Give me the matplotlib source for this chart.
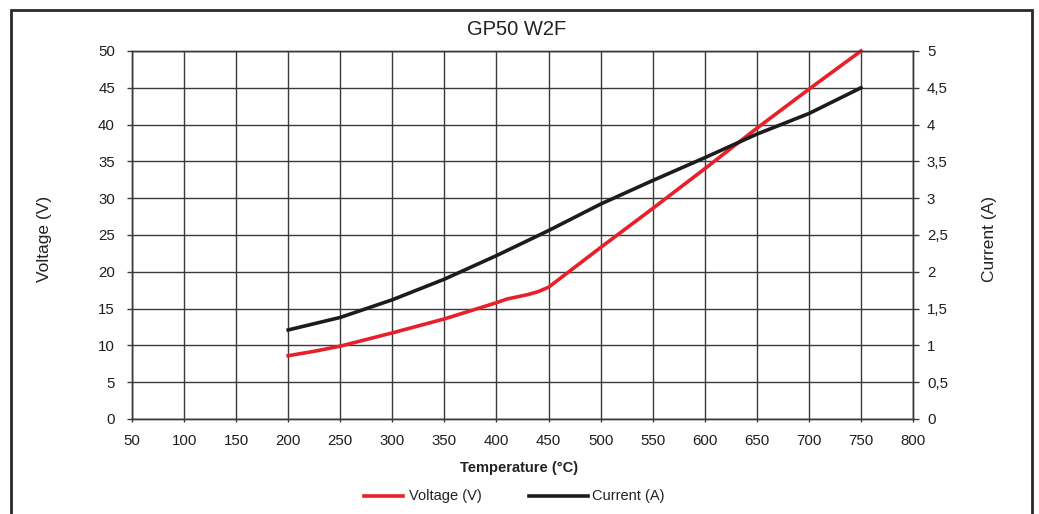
import matplotlib
matplotlib.use("Agg")
import matplotlib.pyplot as plt
from matplotlib.lines import Line2D
from matplotlib.patches import Rectangle

plt.rcParams['font.family'] = ['Liberation Sans', 'DejaVu Sans']

# DATA ------------------------------------------------
title = "GP50 W2F"
temp_v = [200, 225, 250, 275, 300, 350, 400, 410, 420, 430, 440, 450, 500, 550, 600, 650, 700, 750]
voltage = [8.6, 9.2, 9.9, 10.8, 11.7, 13.6, 15.8, 16.3, 16.6, 16.9, 17.3, 17.9, 23.3, 28.6, 34.0, 39.5, 44.8, 50.0]

temp_c = [200, 250, 300, 350, 400, 450, 500, 550, 600, 650, 700, 750]
current = [1.21, 1.38, 1.62, 1.90, 2.22, 2.56, 2.92, 3.24, 3.55, 3.87, 4.15, 4.50]

x_ticks = list(range(50, 801, 50))
v_ticks = list(range(0, 51, 5))
a_ticks = [0, 0.5, 1, 1.5, 2, 2.5, 3, 3.5, 4, 4.5, 5]
a_labels = ["0", "0,5", "1", "1,5", "2", "2,5", "3", "3,5", "4", "4,5", "5"]

names = ["Voltage (V)", "Current (A)"]
red = "#e8202a"
blk = "#1c1c1c"
grid_c = "#3a3a3a"

# FIGURE ----------------------------------------------
W, H = 1039, 514
fig = plt.figure(figsize=(W / 100, H / 100), dpi=100)
ax = fig.add_axes([132 / W, (H - 419) / H, 781 / W, 368 / H])
ax2 = ax.twinx()

ax.plot(temp_v, voltage, color=red, lw=2.6, clip_on=False, zorder=3)
ax2.plot(temp_c, current, color=blk, lw=2.6, clip_on=False, zorder=3)

ax.set_xlim(50, 800)
ax.set_ylim(0, 50)
ax2.set_ylim(0, 5)
ax.set_xticks(x_ticks)
ax.set_yticks(v_ticks)
ax2.set_yticks(a_ticks)
ax2.set_yticklabels(a_labels)

ax.grid(True, color=grid_c, lw=1.0)
for a in (ax, ax2):
    for s in a.spines.values():
        s.set_color(grid_c)
        s.set_linewidth(1.0)

ax.tick_params(axis='x', length=2.5, width=1.0, color=grid_c, pad=8, labelsize=10.8, labelcolor="#1e1e1e")
ax.tick_params(axis='y', length=3.3, width=1.0, color=grid_c, pad=9, labelsize=10.8, labelcolor="#1e1e1e")
ax2.tick_params(axis='y', length=4.5, width=1.0, color=grid_c, pad=5.5, labelsize=10.8, labelcolor="#1e1e1e")

ax.set_ylabel(names[0], fontsize=12.5, color="#222222")
ax.yaxis.set_label_coords(-0.1024, 0.49)
ax2.set_ylabel(names[1], fontsize=12.5, color="#222222")
ax2.yaxis.set_label_coords(1.088, 0.49)
ax.set_xlabel("Temperature (°C)", fontsize=10.5, fontweight='bold', color="#222222")
ax.xaxis.set_label_coords(0.4955, -0.133)
ax.xaxis.label.set_va('center')

ax.set_title(title, fontsize=14.5, color="#222222", x=0.492, y=1.0435, pad=0)

# legend (drawn by hand, the two handles have different lengths)
ly = 1 - 496 / H
fig.add_artist(Line2D([364 / W, 403 / W], [ly, ly], color=red, lw=2.6))
fig.text(409 / W, ly, names[0], fontsize=10.5, va='center', ha='left', color="#222222")
fig.add_artist(Line2D([529 / W, 588 / W], [ly, ly], color=blk, lw=2.6))
fig.text(592 / W, ly, names[1], fontsize=10.5, va='center', ha='left', color="#222222")

# outer frame, bottom edge runs off the picture
fig.add_artist(Rectangle((11 / W, -0.05), 1021 / W, 1.05 - 9.5 / H,
                         transform=fig.transFigure, fill=False,
                         edgecolor="#2a2a2a", lw=2.0, clip_on=False))

fig.savefig("out.png", dpi=100)
